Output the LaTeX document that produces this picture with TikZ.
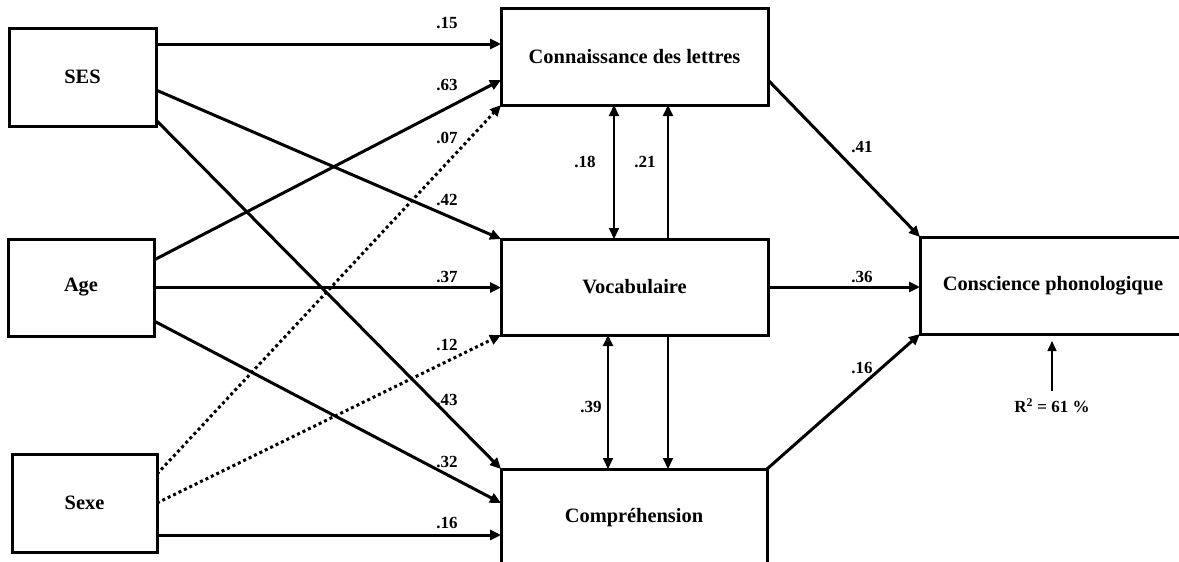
\documentclass[tikz,border=0pt]{standalone}
\usepackage{fontspec}
\setmainfont{Liberation Serif}
\usetikzlibrary{arrows.meta}
\begin{document}
\begin{tikzpicture}[x=1pt,y=-1pt,
  box/.style={draw,line width=3pt,rectangle,inner sep=0pt,outer sep=0pt,font=\fontsize{20.4}{24}\selectfont\bfseries},
  lbl/.style={font=\fontsize{17}{20}\selectfont\bfseries,inner sep=0pt},
  arr/.style={line width=3pt,-{Triangle[length=11pt,width=10pt]}},
  darr/.style={arr,dash pattern=on 3pt off 3pt},
  varr/.style={line width=2pt,-{Triangle[length=11pt,width=10pt]}},
  vdarr/.style={line width=2pt,{Triangle[length=11pt,width=10pt]}-{Triangle[length=11pt,width=10pt]}}]
\useasboundingbox (0,0) rectangle (1179,562);
\clip (0,0) rectangle (1179,562);
\node[box,minimum width=147pt,minimum height=98pt] (SES) at (82.5,77) {SES};
\node[box,minimum width=146pt,minimum height=97pt] (Age) at (81,287.5) {Age};
\node[box,minimum width=145pt,minimum height=98pt] (Sexe) at (84.5,503) {Sexe};
\node[box,minimum width=267pt,minimum height=97pt] (Conn) at (634.5,56.5) {Connaissance des lettres};
\node[box,minimum width=267pt,minimum height=96pt] (Voc) at (634.5,287) {Vocabulaire};
\node[box,minimum width=266pt,minimum height=97pt] (Comp) at (634,517.5) {Compréhension};
\node[box,minimum width=266pt,minimum height=97pt] (CP) at (1053,285.5) {Conscience phonologique};
\node[lbl] (R2) at (1052,406) {R\textsuperscript{2} = 61 \%};
\coordinate (R2base) at ([yshift=8pt]R2.north);
\coordinate (R2tip) at ([yshift=-7pt]R2base |- CP.south);
% left arrows
\draw[arr] ([yshift=33pt]SES.east) -- ([yshift=12.5pt]Conn.west);
\draw[arr] ([yshift=27.5pt]Age.east) -- ([yshift=-23.5pt]Conn.west);
\draw[darr] ([yshift=29pt]Sexe.east) -- (Conn.south west);
\draw[arr] ([yshift=-13pt]SES.east) -- (Voc.north west);
\draw[arr] (Age.east) -- (Age.east -| Voc.west);
\draw[darr] (Sexe.east) -- (Voc.south west);
\draw[arr] ([yshift=-43pt]SES.east) -- (Comp.north west);
\draw[arr] ([yshift=-33.5pt]Age.east) -- ([yshift=14.5pt]Comp.west);
\draw[arr] ([yshift=-32pt]Sexe.east) -- ([yshift=-17.5pt]Comp.west);
% middle verticals
\draw[vdarr] ([xshift=-20.5pt]Conn.south) -- ([xshift=-20.5pt]Voc.north);
\draw[varr] ([xshift=33.5pt]Voc.north) -- ([xshift=33.5pt]Conn.south);
\draw[vdarr] ([xshift=-26.5pt]Voc.south) -- ([xshift=-26pt]Comp.north);
\draw[varr] ([xshift=33.5pt]Voc.south) -- ([xshift=34pt]Comp.north);
% right arrows
\draw[arr] ([yshift=-23.5pt]Conn.east) -- (CP.north west);
\draw[arr] (Voc.east) -- (Voc.east -| CP.west);
\draw[arr] (Comp.north east) -- (CP.south west);
\draw[line width=1.5pt,-{Triangle[length=10pt,width=9pt]}] (R2base) -- (R2tip);
% labels
\node[lbl] (l1) at (447,23) {.15};
\node[lbl] (l2) at (447,85) {.63};
\node[lbl] (l3) at (447,138) {.07};
\node[lbl] (l4) at (447,200) {.42};
\node[lbl] (l5) at (447,277) {.37};
\node[lbl] (l6) at (447,345) {.12};
\node[lbl] (l7) at (447,400) {.43};
\node[lbl] (l8) at (447,462) {.32};
\node[lbl] (l9) at (447,523) {.16};
\node[lbl] (l10) at (585,162) {.18};
\node[lbl] (l11) at (645,162) {.21};
\node[lbl] (l12) at (591,407) {.39};
\node[lbl] (l13) at (862,147) {.41};
\node[lbl] (l14) at (862,277) {.36};
\node[lbl] (l15) at (862,368) {.16};
\end{tikzpicture}
\end{document}
